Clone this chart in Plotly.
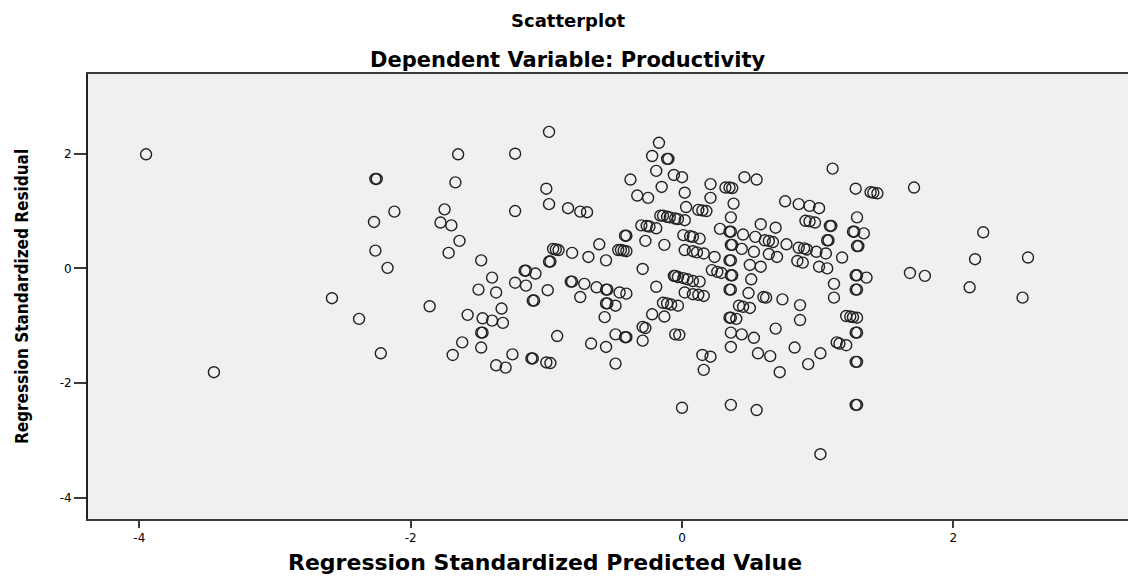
import plotly.graph_objects as go

# Regression Standardized Predicted Value (x) and Regression Standardized Residual (y)
pred_value = [
    -3.95, -3.45, -2.58, -2.38, -2.22, -2.26, -2.25, -2.27, -2.26, -2.12, -2.17, -1.86,
    -1.65, -1.67, -1.23, -0.98, -1.75, -1.78, -1.70, -1.64, -1.72, -1.48, -1.40, -1.50, -1.37,
    -1.23, -1.00, -0.98, -0.84, -0.75, -0.70, -0.95, -0.93, -0.91, -0.98, -0.97, -0.81, -0.69,
    -0.56, -0.61, -1.16, -1.15, -1.08, -1.23, -1.15, -0.99, -0.82, -0.81, -0.72, -0.63, -0.56,
    -0.55, -0.46, -0.41, -0.75, -0.38, -0.17, -0.22, -0.11, -0.10, -0.19, -0.06, 0.00, -0.15,
    -0.33, -0.25, 0.02, 0.21, 0.32, 0.35, 0.37, 0.21, 0.03, 0.12, 0.15, 0.18, 0.38,
    -0.16, -0.14, -0.11, -0.09, -0.05, -0.03, 0.02, -0.30, -0.26, -0.24, -0.19, -0.42, -0.41,
    -0.27, -0.13, 0.01, 0.06, 0.08, 0.13, 0.02, 0.08, 0.11, 0.16, -0.47, -0.45, -0.43, -0.41,
    -0.29, 0.24, 0.22, 0.26, 0.29, 0.35, 0.36, 0.36, 0.37, 0.35, 0.36, 0.36, 0.37, 0.35, 0.36,
    0.28, -0.06, -0.05, -0.03, 0.01, 0.04, 0.08, 0.13, -0.19, 0.02, 0.08, 0.12, 0.16,
    0.46, 0.55, 1.11, 1.28, 1.39, 1.41, 1.44, 1.71, 0.36, 0.76, 0.86, 0.94, 1.01,
    0.58, 0.69, 0.91, 0.94, 0.98, 1.09, 1.10, 1.29, 1.26, 1.27, 1.34, 1.07, 1.08, 1.29, 1.30,
    1.18, 0.45, 0.54, 0.61, 0.64, 0.67, 0.77, 0.44, 0.53, 0.64, 0.70, 0.86, 0.90, 0.92,
    0.99, 1.06, 0.50, 0.58, 0.85, 0.89, 1.01, 1.07, 1.12, 1.28, 1.29, 1.36, 1.28, 1.29,
    0.51, 0.49, 0.60, 0.62, 0.74, 1.12, 1.68, 1.79, 2.22, 2.16, 2.55, 2.12, 2.51,
    0.87, 0.42, 0.45, 0.50, 0.35, 0.36, 0.40, 0.87, 1.21, 1.24, 1.26, 1.29, 0.69,
    0.36, 0.44, 0.53, 1.28, 1.29, 0.36, 0.56, 0.65, 0.83, 1.02, 1.14, 1.16, 1.21,
    0.93, 0.72, 1.28, 1.29, 0.36, 0.55, 1.28, 1.29, 1.02,
    -1.33, -1.58, -1.47, -1.40, -1.32, -1.48, -1.47, -1.62, -1.48, -1.69, -1.37, -1.30,
    -1.25, -1.11, -1.10, -1.00, -0.97, -1.10, -1.09, -0.92, -0.56, -0.55, -0.49, -0.57,
    -0.49, -0.42, -0.41, -0.67, -0.56, -0.49, -0.29, -0.27, -0.29, -0.22, -0.13, -0.14,
    -0.11, -0.08, -0.03, -0.05, -0.02, 0.00, 0.15, 0.21, 0.16,
]
std_residual = [
    1.99, -1.81, -0.52, -0.88, -1.48, 1.56, 1.56, 0.81, 0.31, 0.99, 0.01, -0.66,
    1.99, 1.50, 2.00, 2.38, 1.03, 0.80, 0.75, 0.48, 0.27, 0.14, -0.16, -0.37, -0.42,
    1.00, 1.39, 1.12, 1.05, 0.99, 0.98, 0.34, 0.33, 0.32, 0.12, 0.12, 0.27, 0.20,
    0.14, 0.42, -0.04, -0.04, -0.09, -0.25, -0.30, -0.38, -0.23, -0.23, -0.27, -0.33, -0.37,
    -0.37, -0.42, -0.44, -0.50, 1.55, 2.19, 1.96, 1.91, 1.91, 1.70, 1.63, 1.59, 1.42,
    1.27, 1.23, 1.32, 1.47, 1.41, 1.41, 1.40, 1.23, 1.07, 1.02, 1.01, 1.00, 1.13,
    0.92, 0.92, 0.90, 0.89, 0.87, 0.86, 0.84, 0.75, 0.74, 0.73, 0.70, 0.57, 0.57,
    0.48, 0.41, 0.58, 0.56, 0.55, 0.52, 0.32, 0.30, 0.28, 0.26, 0.32, 0.32, 0.31, 0.30,
    -0.01, 0.20, -0.03, -0.06, -0.08, 0.64, 0.64, 0.41, 0.41, 0.14, 0.14, -0.12, -0.12, -0.37, -0.37,
    0.69, -0.13, -0.13, -0.15, -0.17, -0.19, -0.22, -0.23, -0.32, -0.42, -0.45, -0.46, -0.48,
    1.59, 1.55, 1.74, 1.39, 1.33, 1.32, 1.31, 1.41, 0.89, 1.17, 1.12, 1.09, 1.05,
    0.77, 0.71, 0.83, 0.82, 0.80, 0.74, 0.74, 0.89, 0.64, 0.64, 0.61, 0.49, 0.49, 0.39, 0.39,
    0.19, 0.59, 0.55, 0.49, 0.48, 0.46, 0.42, 0.34, 0.29, 0.25, 0.20, 0.36, 0.35, 0.33,
    0.29, 0.26, 0.06, 0.03, 0.13, 0.10, 0.03, 0.00, -0.27, -0.12, -0.12, -0.16, -0.37, -0.37,
    -0.19, -0.43, -0.50, -0.51, -0.54, -0.51, -0.08, -0.13, 0.63, 0.16, 0.19, -0.33, -0.51,
    -0.64, -0.65, -0.67, -0.69, -0.86, -0.86, -0.88, -0.90, -0.83, -0.84, -0.85, -0.86, -1.05,
    -1.12, -1.15, -1.21, -1.12, -1.12, -1.37, -1.48, -1.53, -1.38, -1.48, -1.29, -1.31, -1.34,
    -1.67, -1.81, -1.63, -1.63, -2.38, -2.47, -2.38, -2.38, -3.24,
    -0.70, -0.81, -0.87, -0.91, -0.95, -1.12, -1.12, -1.29, -1.38, -1.51, -1.69, -1.73,
    -1.50, -1.57, -1.57, -1.64, -1.65, -0.56, -0.56, -1.18, -0.61, -0.61, -0.65, -0.85,
    -1.15, -1.20, -1.20, -1.31, -1.37, -1.66, -1.02, -1.04, -1.26, -0.80, -0.84, -0.60,
    -0.61, -0.63, -0.65, -1.15, -1.16, -2.43, -1.51, -1.54, -1.77,
]

x_ticks = [-4, -2, 0, 2]
y_ticks = [-4, -2, 0, 2]

fig = go.Figure()
fig.add_trace(go.Scatter(
    x=pred_value, y=std_residual, mode="markers",
    marker=dict(symbol="circle-open", size=11, color="#222222", line=dict(width=1.4, color="#222222")),
    hoverinfo="x+y", showlegend=False,
))

# page body has an 8px margin, so the figure is sized to fill the rest of the window
fig.update_layout(
    width=1128, height=568,
    margin=dict(l=80, r=0, t=66, b=57),
    paper_bgcolor="white",
    plot_bgcolor="#f0f0f0",
    font=dict(family="DejaVu Sans", color="black"),
    xaxis=dict(
        range=[-4.378, 3.346], tickvals=x_ticks, ticktext=[str(v) for v in x_ticks],
        showgrid=False, zeroline=False, showline=True, mirror=True,
        linecolor="#3a3a3a", linewidth=1.5, ticks="outside", ticklen=7, tickwidth=1.5,
        tickcolor="#3a3a3a", tickfont=dict(size=12, family="DejaVu Sans"),
    ),
    yaxis=dict(
        range=[-4.37, 3.39], tickvals=y_ticks, ticktext=[str(v) for v in y_ticks],
        showgrid=False, zeroline=False, showline=True, mirror=False,
        linecolor="#222222", linewidth=2, ticks="outside", ticklen=12, tickwidth=1.5,
        tickcolor="#3a3a3a", tickfont=dict(size=12, family="DejaVu Sans"),
    ),
    annotations=[
        dict(text="<b>Scatterplot</b>", xref="paper", yref="paper", x=0.458, y=1.1213,
             xanchor="center", yanchor="middle", showarrow=False,
             font=dict(size=18, family="DejaVu Sans")),
        dict(text="<b>Dependent Variable: Productivity</b>", xref="paper", yref="paper",
             x=0.458, y=1.0315, xanchor="center", yanchor="middle", showarrow=False,
             font=dict(size=21, family="DejaVu Sans")),
        dict(text="<b>Regression Standardized Predicted Value</b>", xref="paper", yref="paper",
             x=0.436, y=-0.0972, xanchor="center", yanchor="middle", showarrow=False,
             font=dict(size=22, family="DejaVu Sans")),
        dict(text="<b>Regression Standardized Residual</b>", xref="paper", yref="paper",
             x=-0.063, y=0.501, xanchor="center", yanchor="middle", showarrow=False,
             textangle=-90,
             font=dict(size=17, family="DejaVu Sans Condensed, Liberation Sans Narrow, DejaVu Sans")),
    ],
)

fig.write_html("out.html")
